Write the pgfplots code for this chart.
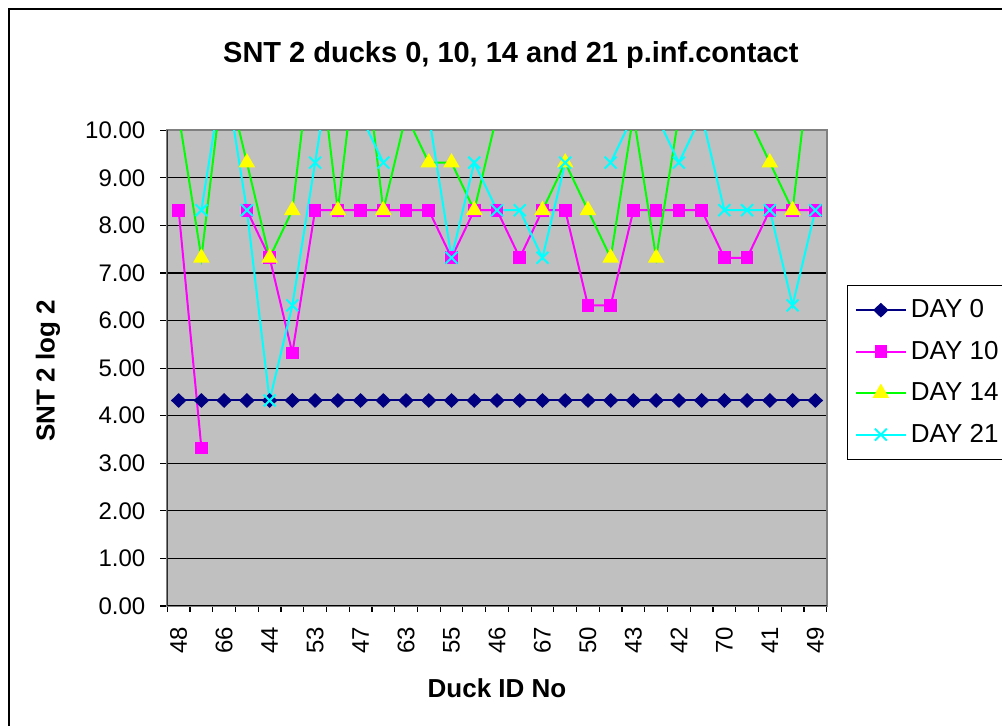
\documentclass[border=0pt]{standalone}
\usepackage{fontspec}
\setmainfont{Liberation Sans}
\usepackage{pgfplots}
\pgfplotsset{compat=1.18}
\definecolor{plotbg}{RGB}{192,192,192}
\definecolor{navyc}{RGB}{0,0,128}
\definecolor{magc}{RGB}{255,0,255}
\definecolor{grnc}{RGB}{0,255,0}
\definecolor{yelc}{RGB}{255,255,0}
\definecolor{cyac}{RGB}{0,255,255}
\definecolor{bordgray}{RGB}{128,128,128}
\begin{document}
\begin{tikzpicture}
\useasboundingbox (0,0) rectangle (501pt,363pt);
\draw[black, line width=0.6pt] (4.5pt,-5pt) -- (4.5pt,358.5pt) -- (510pt,358.5pt);
\begin{axis}[
  at={(83.65pt,60pt)}, anchor=south west,
  scale only axis, width=329.7pt, height=237.85pt,
  xmin=-0.5, xmax=28.5, ymin=0, ymax=10,
  axis background/.style={fill=plotbg},
  axis line style={draw=bordgray, line width=1pt},
  ytick={0,1,...,10},
  yticklabels={0.00,1.00,2.00,3.00,4.00,5.00,6.00,7.00,8.00,9.00,10.00},
  ymajorgrids, major grid style={black, line width=0.6pt},
  xtick={0,2,...,28},
  xticklabels={48,66,44,53,47,63,55,46,67,50,43,42,70,41,49},
  minor xtick={-0.5,0.5,...,28.5},
  xtick pos=bottom, ytick pos=left,
  tick align=outside,
  major tick length=3.5pt, minor tick length=3pt,
  tick style={black, line width=0.6pt},
  major x tick style={draw=none},
  minor x tick style={black, line width=0.6pt},
  unbounded coords=jump,
  tick label style={font=\fontsize{12}{14}\selectfont},
  xticklabel style={yshift=-3.5pt, rotate=90, anchor=east},
  yticklabel style={xshift=-4pt},
  title={SNT 2 ducks 0, 10, 14 and 21 p.inf.contact},
  title style={at={(0.521,1.134)}, anchor=center, font=\bfseries\fontsize{14.5}{17}\selectfont},
  xlabel={Duck ID No},
  xlabel style={at={(0.5,-0.1724)}, anchor=center, font=\bfseries\fontsize{13}{15}\selectfont},
  ylabel={SNT 2 log 2},
  ylabel style={at={(-0.181,0.494)}, anchor=center, font=\bfseries\fontsize{13}{15}\selectfont},
  legend image code/.code={\draw[mark repeat=2,mark phase=2,#1] plot coordinates {(0pt,0pt) (12.5pt,0pt) (25pt,0pt)};},
  legend style={at={(1.0312,0.6748)}, anchor=north west, draw=black, line width=0.6pt, fill=white,
    font=\fontsize{13}{15}\selectfont, inner xsep=3.5pt, inner ysep=5pt, row sep=6.2pt,
    /tikz/every even column/.append style={column sep=2.5pt}},
  legend cell align=left,
]
\addplot[navyc, line width=1pt, mark=diamond*, mark size=3pt, mark options={fill=navyc, draw=navyc, xscale=1.4}] coordinates {
(0,4.32) (1,4.32) (2,4.32) (3,4.32) (4,4.32) (5,4.32) (6,4.32) (7,4.32) (8,4.32) (9,4.32)
(10,4.32) (11,4.32) (12,4.32) (13,4.32) (14,4.32) (15,4.32) (16,4.32) (17,4.32) (18,4.32) (19,4.32)
(20,4.32) (21,4.32) (22,4.32) (23,4.32) (24,4.32) (25,4.32) (26,4.32) (27,4.32) (28,4.32)};
\addlegendentry{DAY 0}
\addplot[magc, line width=1pt, mark=square*, mark size=2.65pt, mark options={fill=magc, draw=magc}] coordinates {
(0,8.32) (1,3.32) (2,nan) (3,8.32) (4,7.32) (5,5.32) (6,8.32) (7,8.32) (8,8.32) (9,8.32)
(10,8.32) (11,8.32) (12,7.32) (13,8.32) (14,8.32) (15,7.32) (16,8.32) (17,8.32) (18,6.32) (19,6.32)
(20,8.32) (21,8.32) (22,8.32) (23,8.32) (24,7.32) (25,7.32) (26,8.32) (27,8.32) (28,8.32)};
\addlegendentry{DAY 10}
\addplot[grnc, line width=1pt, mark=triangle*, mark size=3.8pt, mark options={fill=yelc, draw=yelc}] coordinates {
(0,10.32) (1,7.32) (2,11.32) (3,9.32) (4,7.32) (5,8.32) (6,12.32) (7,8.32) (8,12.32) (9,8.32)
(10,10.32) (11,9.32) (12,9.32) (13,8.32) (14,10.32) (15,nan) (16,8.32) (17,9.32) (18,8.32) (19,7.32)
(20,10.32) (21,7.32) (22,10.32) (23,10.32) (24,10.32) (25,10.32) (26,9.32) (27,8.32) (28,12.32)};
\addlegendentry{DAY 14}
\addplot[cyac, line width=1pt, mark=x, mark size=4.2pt, mark options={draw=cyac, line width=1pt}] coordinates {
(0,nan) (1,8.32) (2,11.32) (3,8.32) (4,4.32) (5,6.32) (6,9.32) (7,12.32) (8,10.32) (9,9.32)
(10,nan) (11,10.32) (12,7.32) (13,9.32) (14,8.32) (15,8.32) (16,7.32) (17,9.32) (18,nan) (19,9.32)
(20,10.32) (21,10.32) (22,9.32) (23,10.32) (24,8.32) (25,8.32) (26,8.32) (27,6.32) (28,8.32)};
\addlegendentry{DAY 21}
\draw[black, line width=1pt] (rel axis cs:0,1) -- (rel axis cs:0,0) -- (rel axis cs:1,0);
\end{axis}
\end{tikzpicture}
\end{document}
